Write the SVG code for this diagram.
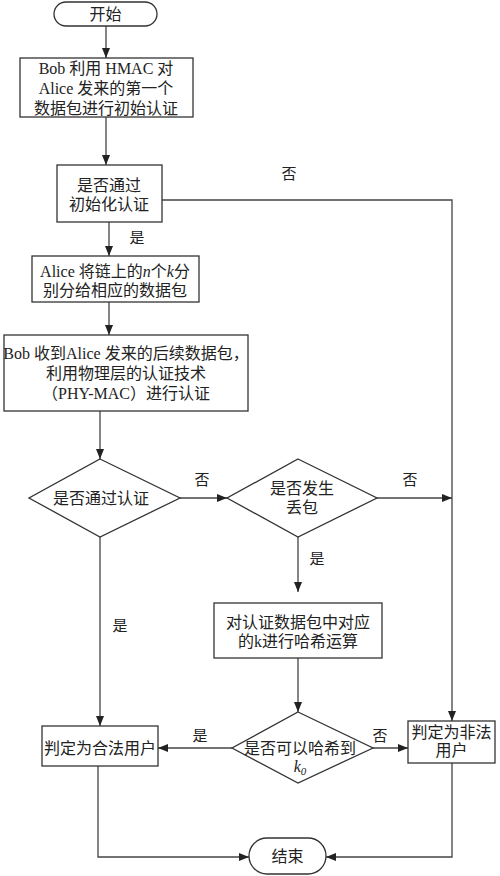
<svg xmlns="http://www.w3.org/2000/svg" width="500" height="876" viewBox="0 0 500 876">
<style>
.box{fill:#fff;stroke:#333;stroke-width:1.3}
.t{font-family:"Liberation Serif","Noto Sans CJK SC",serif;font-size:16px;fill:#222;text-anchor:middle}
.l{font-family:"Liberation Serif","Noto Sans CJK SC",serif;font-size:15px;fill:#222;text-anchor:middle}
.c{fill:none;stroke:#444;stroke-width:1.3}
.i{font-style:italic}
</style>
<defs>
<marker id="a" markerUnits="userSpaceOnUse" markerWidth="10" markerHeight="8" refX="10" refY="4" orient="auto">
<path d="M0,0 L10,4 L0,8 z" fill="#222"/>
</marker>
</defs>
<rect width="500" height="876" fill="#fff"/>
<g id="connectors">
<path class="c" d="M106,26 V58" marker-end="url(#a)"/>
<path class="c" d="M106,117 V165" marker-end="url(#a)"/>
<path class="c" d="M162,200 H452 V721" marker-end="url(#a)"/>
<path class="c" d="M109,222 V256" marker-end="url(#a)"/>
<path class="c" d="M109,302 V335" marker-end="url(#a)"/>
<path class="c" d="M100,411 V459" marker-end="url(#a)"/>
<path class="c" d="M180,498 H227" marker-end="url(#a)"/>
<path class="c" d="M377,498 H452" marker-end="url(#a)"/>
<path class="c" d="M298,537 V592" marker-end="url(#a)"/>
<path class="c" d="M100,537 V726" marker-end="url(#a)"/>
<path class="c" d="M298,658 V712" marker-end="url(#a)"/>
<path class="c" d="M232,748 H158" marker-end="url(#a)"/>
<path class="c" d="M373,748 H408" marker-end="url(#a)"/>
<path class="c" d="M98,766 V857 H249" marker-end="url(#a)"/>
<path class="c" d="M452,763 V857 H326" marker-end="url(#a)"/>
<text class="l" x="289" y="179">否</text>
<text class="l" x="137" y="243">是</text>
<text class="l" x="202" y="485">否</text>
<text class="l" x="410" y="485">否</text>
<text class="l" x="317" y="564">是</text>
<text class="l" x="120" y="631">是</text>
<text class="l" x="200" y="741">是</text>
<text class="l" x="380" y="741">否</text>
</g>
<g id="start">
<rect class="box" x="54" y="2" width="103" height="24" rx="12"/>
<text class="t" x="105.5" y="20">开始</text>
</g>
<g id="hmac">
<rect class="box" x="20" y="58" width="173" height="59"/>
<text class="t" x="106" y="74">Bob 利用 HMAC 对</text>
<text class="t" x="106" y="94">Alice 发来的第一个</text>
<text class="t" x="106" y="114">数据包进行初始认证</text>
</g>
<g id="init-check">
<rect class="box" x="57" y="165" width="105" height="57"/>
<text class="t" x="109" y="191">是否通过</text>
<text class="t" x="109" y="210">初始化认证</text>
</g>
<g id="assign">
<rect class="box" x="32" y="256" width="167" height="46"/>
<text class="t" x="115" y="277">Alice 将链上的<tspan class="i">n</tspan>个<tspan class="i">k</tspan>分</text>
<text class="t" x="115" y="296">别分给相应的数据包</text>
</g>
<g id="phy">
<rect class="box" x="4" y="335" width="244" height="76"/>
<text class="t" x="126" y="359">Bob 收到Alice 发来的后续数据包，</text>
<text class="t" x="126" y="379">利用物理层的认证技术</text>
<text class="t" x="126" y="399">（PHY-MAC）进行认证</text>
</g>
<g id="auth-check">
<polygon class="box" points="100,459 180,498 100,537 29,498"/>
<text class="t" x="101" y="504">是否通过认证</text>
</g>
<g id="loss-check">
<polygon class="box" points="298,459 377,498 298,537 227,498"/>
<text class="t" x="302" y="494">是否发生</text>
<text class="t" x="302" y="513">丢包</text>
</g>
<g id="hash">
<rect class="box" x="214" y="603" width="168" height="55"/>
<text class="t" x="298" y="628">对认证数据包中对应</text>
<text class="t" x="298" y="647">的k进行哈希运算</text>
</g>
<g id="hash-check">
<polygon class="box" points="298,712 373,748 298,783 232,748"/>
<text class="t" x="300" y="754">是否可以哈希到</text>
<text class="t" x="300" y="772"><tspan class="i">k</tspan><tspan class="i" font-size="11" dy="3">0</tspan></text>
</g>
<g id="legal">
<rect class="box" x="42" y="726" width="116" height="40"/>
<text class="t" x="100" y="754">判定为合法用户</text>
</g>
<g id="illegal">
<rect class="box" x="408" y="721" width="87" height="42"/>
<text class="t" x="451.5" y="738">判定为非法</text>
<text class="t" x="451.5" y="756">用户</text>
</g>
<g id="end">
<rect class="box" x="249" y="838" width="77" height="36" rx="18"/>
<text class="t" x="287.5" y="862">结束</text>
</g>
</svg>
